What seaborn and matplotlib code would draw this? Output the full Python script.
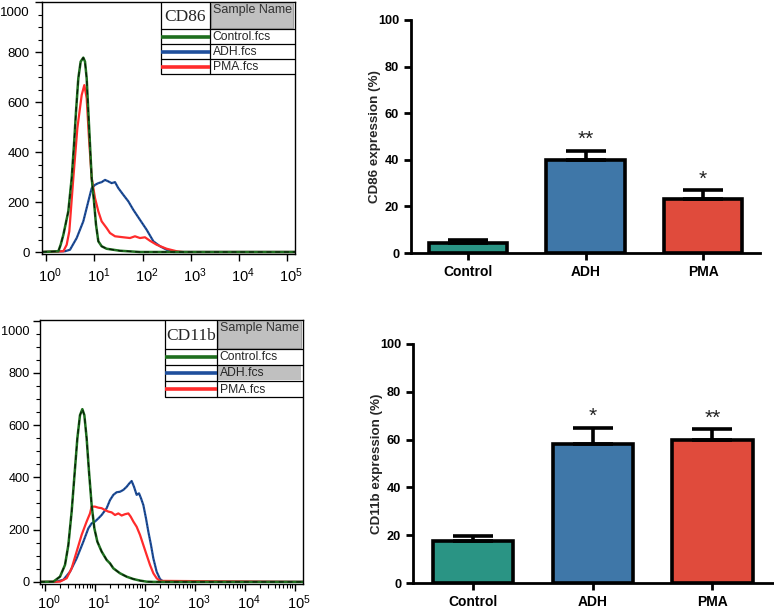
import numpy as np
import pandas as pd
import matplotlib
matplotlib.use("Agg")
import matplotlib.pyplot as plt
import seaborn as sns
from matplotlib.patches import Rectangle
from matplotlib.lines import Line2D
from matplotlib.transforms import ScaledTranslation
from matplotlib.ticker import LogLocator, MultipleLocator, NullFormatter

sns.set_theme(style="white")
plt.rcParams["font.family"] = ["Liberation Sans", "DejaVu Sans"]
plt.rcParams["mathtext.fontset"] = "custom"
plt.rcParams["mathtext.rm"] = "Liberation Sans"
plt.rcParams["mathtext.it"] = "Liberation Sans"

# ---------------- bar chart data ----------------
groups = ["Control", "ADH", "PMA"]
cd86_mean = [4.2, 40.0, 23.3]
cd86_sem = [1.4, 3.9, 3.6]
cd86_sig = ["", "**", "*"]
cd11b_mean = [17.7, 58.2, 59.9]
cd11b_sem = [1.8, 6.7, 4.4]
cd11b_sig = ["", "*", "**"]
bar_colors = ["#2a9484", "#3f77a8", "#e04b3c"]

# ---------------- histogram data (log10 intensity, count) ----------------
cd86_ctrl_logx = [-0.09, 0.25, 0.298, 0.354, 0.457, 0.527, 0.575, 0.617, 0.665, 0.714, 0.769,
                  0.804, 0.839, 0.873, 0.908, 0.943, 0.991, 1.033, 1.081, 1.15, 1.254, 1.532, 1.947, 5.17]
cd86_ctrl_cnt = [0, 3, 29, 69, 163, 296, 429, 563, 696, 763, 779,
                 763, 696, 563, 429, 296, 203, 109, 43, 23, 13, 5, 0, 0]
cd86_adh_logx = [-0.09, 0.388, 0.492, 0.631, 0.769, 0.873, 0.943, 1.012, 1.081, 1.15, 1.22, 1.289,
                 1.358, 1.428, 1.497, 1.601, 1.705, 1.809, 1.947, 2.086, 2.225, 2.363, 2.502, 2.64, 5.17]
cd86_adh_cnt = [0, 3, 9, 56, 123, 203, 256, 269, 276, 280, 289, 283,
                276, 280, 256, 229, 203, 169, 129, 89, 43, 23, 9, 0, 0]
cd86_pma_logx = [-0.09, 0.354, 0.423, 0.478, 0.561, 0.645, 0.735, 0.79, 0.839, 0.887, 0.943, 1.012,
                 1.081, 1.15, 1.254, 1.324, 1.428, 1.601, 1.74, 1.843, 1.947, 2.051, 2.155, 2.294,
                 2.502, 2.71, 2.848, 5.17]
cd86_pma_cnt = [0, 3, 29, 83, 296, 496, 629, 669, 616, 456, 296, 216,
                163, 123, 96, 76, 63, 59, 56, 63, 56, 59, 45, 29,
                13, 3, 0, 0]

cd11b_ctrl_logx = [-0.09, 0.177, 0.31, 0.41, 0.477, 0.543, 0.61, 0.657, 0.71, 0.757, 0.797, 0.843,
                   0.89, 0.943, 0.997, 1.057, 1.143, 1.243, 1.31, 1.377, 1.51, 1.643, 1.777, 1.91,
                   2.043, 2.177, 5.17]
cd11b_ctrl_cnt = [0, 1, 20, 65, 141, 269, 434, 549, 638, 661, 638, 549,
                  422, 294, 205, 154, 116, 84, 71, 52, 33, 20, 11, 5,
                  1, 0, 0]
cd11b_adh_logx = [-0.09, 0.21, 0.377, 0.51, 0.643, 0.777, 0.877, 0.943, 1.01, 1.077, 1.143, 1.243,
                  1.31, 1.377, 1.443, 1.51, 1.577, 1.643, 1.697, 1.743, 1.79, 1.843, 1.89, 1.93,
                  1.977, 2.03, 2.077, 2.13, 2.177, 2.243, 2.31, 2.377, 5.17]
cd11b_adh_cnt = [0, 0, 8, 39, 90, 154, 205, 224, 231, 243, 256, 282,
                 313, 333, 343, 345, 352, 364, 377, 386, 364, 333, 339, 320,
                 294, 243, 192, 141, 90, 39, 11, 1, 0]
cd11b_pma_logx = [-0.09, 0.31, 0.443, 0.543, 0.643, 0.743, 0.843, 0.91, 0.943, 1.01, 1.077, 1.143,
                  1.21, 1.277, 1.343, 1.41, 1.477, 1.543, 1.61, 1.677, 1.723, 1.777, 1.843, 1.91,
                  1.977, 2.043, 2.11, 2.177, 2.243, 2.31, 5.17]
cd11b_pma_cnt = [0, 1, 14, 52, 116, 180, 231, 262, 288, 288, 284, 282,
                 275, 269, 266, 256, 262, 254, 259, 262, 250, 231, 211, 180,
                 141, 103, 65, 33, 14, 4, 0]

sample_names = ["Control.fcs", "ADH.fcs", "PMA.fcs"]
line_colors = ["#1e6e1e", "#1f4f9c", "#ff2b2b"]

W, H = 774, 612
fig = plt.figure(figsize=(W / 100, H / 100), dpi=100)


def ax_px(left, top, right, bottom):
    return fig.add_axes([left / W, 1 - bottom / H, (right - left) / W, (bottom - top) / H])


def draw_hist(ax, ctrl, adh, pma, marker, tbl, highlight_adh=False, xpad=4, ypad=4, ysize=9.5):
    frames = []
    for name, (lx, cnt) in zip(sample_names, [ctrl, adh, pma]):
        frames.append(pd.DataFrame({"x": 10 ** np.array(lx, dtype=float),
                                    "count": cnt, "sample": name}))
    df = pd.concat(frames, ignore_index=True)
    ax.set_xscale("log")
    order = ["ADH.fcs", "PMA.fcs", "Control.fcs"]
    cmap = dict(zip(sample_names, line_colors))
    for s in order:
        sub = df[df["sample"] == s]
        sns.lineplot(data=sub, x="x", y="count", ax=ax, color=cmap[s],
                     lw=1.6 if s != "Control.fcs" else 1.8, sort=False, estimator=None)
        if s == "Control.fcs":
            ax.plot(sub["x"], sub["count"], color="black", lw=0.9, ls=(0, (4, 3)), alpha=0.75)
        if s == "ADH.fcs":
            ax.plot(sub["x"], sub["count"], color="black", lw=0.6, ls=(0, (1, 3)), alpha=0.6)
    ax.set_xlim(10 ** -0.09, 10 ** 5.17)
    ax.set_ylim(-8, 1002)
    ax.set_xlabel("")
    ax.set_ylabel("")
    ax.set_xticks([10 ** k for k in range(6)])
    ax.set_xticklabels([r"$10^{%d}$" % k for k in range(6)])
    ax.xaxis.set_minor_locator(LogLocator(base=10, subs=np.arange(2, 10)))
    ax.xaxis.set_minor_formatter(NullFormatter())
    ax.yaxis.set_major_locator(MultipleLocator(200))
    ax.yaxis.set_minor_locator(MultipleLocator(50))
    ax.tick_params(axis="both", which="major", direction="out", length=5, width=1,
                   colors="black", labelsize=9.5, bottom=True, left=True, top=False, right=False)
    ax.tick_params(axis="both", which="minor", direction="out", length=3, width=0.8,
                   colors="black", bottom=True, left=True, top=False, right=False)
    ax.tick_params(axis="x", which="major", pad=xpad, labelsize=10.5)
    ax.tick_params(axis="y", which="major", pad=ypad, labelsize=ysize)
    for sp in ax.spines.values():
        sp.set_visible(True)
        sp.set_color("black")
        sp.set_linewidth(1.0)

    # sample table
    x0, xm, x1 = tbl["x"]
    rows = tbl["rows"]
    T = ax.transAxes
    ax.add_patch(Rectangle((x0, rows[-1]), x1 - x0, rows[0] - rows[-1], transform=T,
                           facecolor="white", edgecolor="black", lw=0.9, zorder=4))
    ax.add_patch(Rectangle((xm + 0.004, rows[1] + 0.005), x1 - xm - 0.01, rows[0] - rows[1] - 0.01,
                           transform=T, facecolor="#c0c0c0", edgecolor="#a0a0a0", lw=0.8, zorder=5))
    if highlight_adh:
        ax.add_patch(Rectangle((xm + 0.004, rows[3] + 0.004), x1 - xm - 0.012, rows[2] - rows[3] - 0.008,
                               transform=T, facecolor="#c0c0c0", edgecolor="none", zorder=5))
    for yy in rows[1:-1]:
        ax.add_line(Line2D([x0, x1], [yy, yy], transform=T, color="black", lw=0.9, zorder=6))
    ax.add_line(Line2D([xm, xm], [rows[0], rows[-1]], transform=T, color="black", lw=0.9, zorder=6))
    ax.text((x0 + xm) / 2, (rows[0] + rows[1]) / 2 - 0.005, marker, transform=T,
            family=["Liberation Serif", "DejaVu Serif"], fontsize=12.5, ha="center", va="center", zorder=7)
    ax.text(xm + 0.012, rows[0] - 0.006, "Sample Name", transform=T, fontsize=9,
            color="#333333", ha="left", va="top", zorder=7)
    for i, (nm, c) in enumerate(zip(sample_names, line_colors)):
        yc = (rows[i + 1] + rows[i + 2]) / 2
        ax.add_line(Line2D([x0, xm], [yc, yc], transform=T, color=c, lw=2.6, zorder=7,
                           solid_capstyle="butt"))
        ax.text(xm + 0.01, yc - 0.002, nm, transform=T, fontsize=8.7, ha="left", va="center", zorder=7)


def shift_hist_labels(ax, top_shift_px):
    for lab in ax.get_xticklabels():
        lab.set_transform(lab.get_transform() + ScaledTranslation(4 / 100, 0, fig.dpi_scale_trans))
    for lab in ax.get_yticklabels():
        if lab.get_text() == "1000":
            lab.set_transform(lab.get_transform() +
                              ScaledTranslation(0, -top_shift_px / 100, fig.dpi_scale_trans))


def draw_bars(ax, means, sems, sigs, ylabel, xlim):
    sns.barplot(x=groups, y=means, hue=groups, palette=bar_colors, legend=False, width=0.67,
                edgecolor="black", linewidth=2.6, errorbar=None, ax=ax, saturation=1)
    ax.errorbar(x=np.arange(len(groups)), y=means, yerr=[np.zeros(len(sems)), sems], fmt="none",
                ecolor="black", elinewidth=2.6, capsize=14.5, capthick=2.6, zorder=5)
    for i, (m, s, g) in enumerate(zip(means, sems, sigs)):
        if g:
            ax.text(i, m + s + 0.8, g, ha="center", va="bottom", fontsize=15, color="#222222")
    ax.set_ylim(0, 100)
    ax.set_xlim(*xlim)
    ax.yaxis.set_major_locator(MultipleLocator(20))
    sns.despine(ax=ax)
    for side in ["left", "bottom"]:
        ax.spines[side].set_linewidth(2.0)
        ax.spines[side].set_color("black")
    ax.tick_params(axis="both", direction="out", length=5, width=2, colors="black",
                   bottom=True, left=True, labelsize=9.2)
    ax.tick_params(axis="x", pad=4, labelsize=10)
    for lab in ax.get_xticklabels() + ax.get_yticklabels():
        lab.set_fontweight("bold")
    ax.set_ylabel(ylabel, fontsize=9.6, fontweight="bold", labelpad=-2)
    ax.set_xlabel("")


ax1 = ax_px(42, 2, 295, 254)
draw_hist(ax1, (cd86_ctrl_logx, cd86_ctrl_cnt), (cd86_adh_logx, cd86_adh_cnt),
          (cd86_pma_logx, cd86_pma_cnt), "CD86",
          {"x": (0.470, 0.664, 1.0), "rows": [1.0, 0.892, 0.832, 0.773, 0.713]})

ax3 = ax_px(40, 320, 303, 584)
draw_hist(ax3, (cd11b_ctrl_logx, cd11b_ctrl_cnt), (cd11b_adh_logx, cd11b_adh_cnt),
          (cd11b_pma_logx, cd11b_pma_cnt), "CD11b",
          {"x": (0.475, 0.673, 1.0), "rows": [1.0, 0.890, 0.830, 0.769, 0.708]},
          highlight_adh=True, xpad=1.5, ypad=2.5, ysize=9.2)

ax2 = ax_px(411, 20, 760, 253)
draw_bars(ax2, cd86_mean, cd86_sem, cd86_sig, "CD86 expression (%)", (-0.485, 2.485))

ax4 = ax_px(413, 344, 773, 583)
draw_bars(ax4, cd11b_mean, cd11b_sem, cd11b_sig, "CD11b expression (%)", (-0.50, 2.506))

fig.canvas.draw()
shift_hist_labels(ax1, 9)
shift_hist_labels(ax3, 10)

fig.savefig("out.png", dpi=100)
